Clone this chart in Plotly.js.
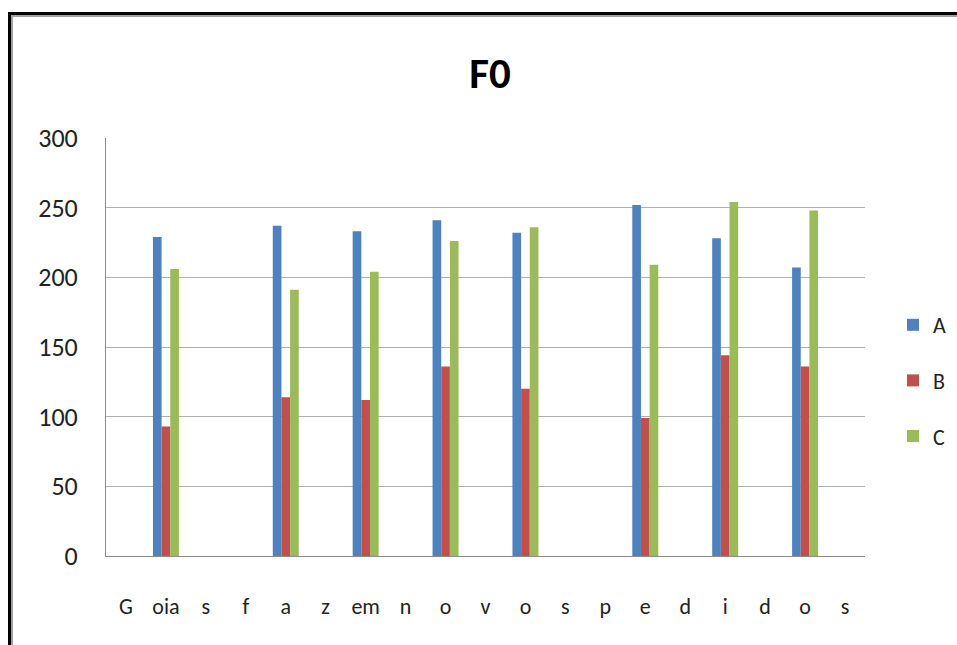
<!DOCTYPE html>
<html>
<head>
<meta charset="utf-8">
<script src="https://cdn.plot.ly/plotly-3.0.1.min.js"></script>
<style>
  html, body { margin: 0; padding: 0; background: #ffffff; }
  #chart { width: 957px; height: 645px; }
  #frame {
    position: absolute; left: 8px; top: 12px; width: 1000px; height: 700px;
    border-left: 3px solid #000; border-top: 3px solid #000;
    box-shadow: inset 2px 2px 0 #a0a0a0;
    pointer-events: none;
  }
</style>
</head>
<body>
<div id="chart"></div>
<div id="frame"></div>
<script>
// Syllable labels along the x axis ("Goias fazem novos pedidos")
const labels = ["G", "oia", "s", "f", "a", "z", "em", "n", "o", "v", "o", "s", "p", "e", "d", "i", "d", "o", "s"];
// F0 values per syllable (null = no bar)
const seriesA = [null, 229, null, null, 237, null, 233, null, 241, null, 232, null, null, 252, null, 228, null, 207, null];
const seriesB = [null, 93, null, null, 114, null, 112, null, 136, null, 120, null, null, 99, null, 144, null, 136, null];
const seriesC = [null, 206, null, null, 191, null, 204, null, 226, null, 236, null, null, 209, null, 254, null, 248, null];
const seriesNames = ["A", "B", "C"];
const colors = ["#4F81BD", "#C0504D", "#9BBB59"];
const yTicks = [0, 50, 100, 150, 200, 250, 300];

const xs = labels.map((_, i) => i);
const allSeries = [seriesA, seriesB, seriesC];

const traces = allSeries.map((vals, k) => ({
  type: "bar",
  name: seriesNames[k],
  x: xs,
  y: vals,
  marker: { color: colors[k] },
  legendgroup: "g" + k,
  hoverinfo: "y+name"
}));

const font = "Carlito, Lato, 'Open Sans', sans-serif";

const layout = {
  width: 957,
  height: 645,
  paper_bgcolor: "#ffffff",
  plot_bgcolor: "#ffffff",
  margin: { l: 106, r: 92, t: 138, b: 89 },
  barmode: "group",
  bargap: 0.35,
  bargroupgap: 0,
  showlegend: true,
  title: {
    text: "<b>F0</b>",
    font: { family: font, size: 43, color: "#000000" },
    x: 490 / 957, xref: "container", xanchor: "center",
    y: 1 - 73 / 645, yref: "container", yanchor: "middle"
  },
  xaxis: {
    range: [-0.5, labels.length - 0.5],
    tickmode: "array",
    tickvals: xs,
    ticktext: labels,
    showgrid: false,
    zeroline: false,
    showline: true,
    linecolor: "#8c8c8c",
    linewidth: 1,
    ticks: "",
    ticklabelstandoff: 31,
    tickfont: { family: font, size: 22, color: "#222222" },
    fixedrange: true
  },
  yaxis: {
    range: [0, 300],
    tickmode: "array",
    tickvals: yTicks,
    ticktext: yTicks.map(String),
    showgrid: true,
    gridcolor: "#b0b0b0",
    gridwidth: 1,
    zeroline: false,
    showline: true,
    linecolor: "#8c8c8c",
    linewidth: 1,
    ticks: "",
    ticklabelstandoff: 22,
    tickfont: { family: font, size: 26, color: "#222222" },
    fixedrange: true
  },
  legend: {
    x: 893 / 957, xref: "container", xanchor: "left",
    y: 1 - 304 / 645, yref: "container", yanchor: "top",
    font: { family: font, size: 22, color: "#222222" },
    tracegroupgap: 24,
    itemwidth: 30,
    bgcolor: "rgba(0,0,0,0)"
  }
};

Plotly.newPlot("chart", traces, layout, { displayModeBar: false, staticPlot: true });
</script>
</body>
</html>
